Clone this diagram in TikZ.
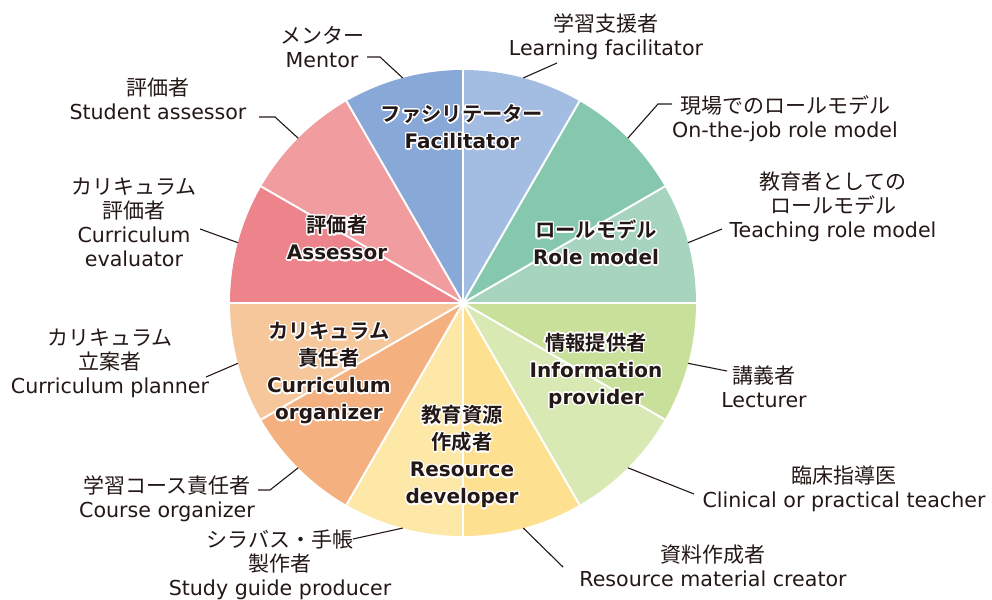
\documentclass[tikz,border=0pt]{standalone}
\usepackage{fontspec}
\setmainfont{DejaVu Sans}
\newfontfamily\jp{Noto Sans CJK JP}[BoldFont={Noto Sans CJK JP Bold}]
\usepackage{contour}
\contourlength{1.4pt}
\contournumber{16}
\definecolor{ink}{HTML}{231815}
\definecolor{cMentor}{HTML}{88A9D7}
\definecolor{cLF}{HTML}{A3BCE2}
\definecolor{cOTJ}{HTML}{86C8AE}
\definecolor{cTeach}{HTML}{A6D4BF}
\definecolor{cLect}{HTML}{C9E09A}
\definecolor{cClin}{HTML}{D9E9B3}
\definecolor{cRMC}{HTML}{FEE190}
\definecolor{cSGP}{HTML}{FEE8A8}
\definecolor{cCourse}{HTML}{F4B17F}
\definecolor{cPlan}{HTML}{F7C79C}
\definecolor{cEval}{HTML}{ED838B}
\definecolor{cStud}{HTML}{F19C9E}
\newcommand\J[1]{{\jp\fontsize{21}{24}\selectfont #1}}
\newcommand\JB[1]{{\jp\bfseries\fontsize{20.3}{27}\selectfont #1}}
\newcommand\halo[1]{\contour{white}{#1}}
\tikzset{
  outer/.style={text=ink, align=center, inner sep=0pt, font=\fontsize{20.6}{24}\selectfont},
  inner/.style={text=ink, align=center, inner sep=0pt, font=\fontsize{20}{27}\selectfont\bfseries},
  leader/.style={draw=ink, line width=1.1pt},
  sep/.style={draw=white, line width=2pt},
}
\begin{document}
\begin{tikzpicture}[x=1pt,y=-1pt]
\useasboundingbox (0,0) rectangle (992,599);
\begin{scope}[shift={(463,303)},y=1pt]
  \coordinate (O) at (0,0);
  \foreach \a/\c in {90/cLF,60/cOTJ,30/cTeach,0/cLect,-30/cClin,-60/cRMC,-90/cSGP,-120/cCourse,-150/cPlan,-180/cEval,-210/cStud,-240/cMentor}
    \fill[\c] (O) -- (\a:233) arc[start angle=\a, delta angle=-30, radius=233] -- cycle;
  \foreach \a in {0,30,...,330}
    \draw[sep] (O) -- (\a:233);
  \coordinate (pMentor) at (105:233);
  \coordinate (pLF) at (75:233);
  \coordinate (pOTJ) at (45:233);
  \coordinate (pTeach) at (15:233);
  \coordinate (pLect) at (-15:233);
  \coordinate (pClin) at (-45:233);
  \coordinate (pRMC) at (-75:233);
  \coordinate (pSGP) at (-105:233);
  \coordinate (pCourse) at (-135:233);
  \coordinate (pPlan) at (-165:233);
  \coordinate (pEval) at (165:233);
  \coordinate (pStud) at (135:233);
\end{scope}

% inner labels
\node[inner] (iFac) at (462,127.5) {\halo{\JB{ファシリテーター}}\\\halo{Facilitator}};
\node[inner] (iAss) at (337,238.5) {\halo{\JB{評価者}}\\\halo{Assessor}};
\node[inner] (iRole) at (596,243.5) {\halo{\JB{ロールモデル}}\\\halo{Role model}};
\node[inner] (iInfo) at (596,371.5) {\halo{\JB{情報提供者}}\\\halo{Information}\\\halo{provider}};
\node[inner] (iRes) at (462,457.5) {\halo{\JB{教育資源}}\\\halo{\JB{作成者}}\\\halo{Resource}\\\halo{developer}};
\node[inner] (iCur) at (329,374) {\halo{\JB{カリキュラム}}\\\halo{\JB{責任者}}\\\halo{Curriculum}\\\halo{organizer}};

% outer labels
\node[outer] (tMentor) at (322,47.5) {\J{メンター}\\Mentor};
\node[outer] (tLF) at (606,37) {\J{学習支援者}\\Learning facilitator};
\node[outer] (tOTJ) at (785,118.5) {\J{現場でのロールモデル}\\On-the-job role model};
\node[outer] (tTeach) at (833,207) {\J{教育者としての}\\\J{ロールモデル}\\Teaching role model};
\node[outer] (tLect) at (764,386.5) {\J{講義者}\\Lecturer};
\node[outer] (tClin) at (844,488.5) {\J{臨床指導医}\\Clinical or practical teacher};
\node[outer] (tRMC) at (713,566) {\J{資料作成者}\\Resource material creator};
\node[outer] (tSGP) at (280,565) {\J{シラバス・手帳}\\\J{製作者}\\Study guide producer};
\node[outer] (tCourse) at (167,499) {\J{学習コース責任者}\\Course organizer};
\node[outer] (tPlan) at (110,363) {\J{カリキュラム}\\\J{立案者}\\Curriculum planner};
\node[outer] (tEval) at (134,222.5) {\J{カリキュラム}\\\J{評価者}\\Curriculum\\evaluator};
\node[outer] (tStud) at (158,99) {\J{評価者}\\Student assessor};

% leader ends
\coordinate (eMentor) at (367,57);
\coordinate (eLF) at (557,63);
\coordinate (eOTJ) at (672,104);
\coordinate (eTeach) at (722,229);
\coordinate (eLect) at (727,371);
\coordinate (eClin) at (694,494);
\coordinate (eRMC) at (563,567);
\coordinate (eSGP) at (353,539);
\coordinate (eCourse) at (258,490);
\coordinate (ePlan) at (206,377);
\coordinate (eEval) at (200,229);
\coordinate (eStud) at (259,117);

\draw[leader] (pMentor) -- (380,57) -- (eMentor);
\draw[leader] (pLF) -- (eLF);
\draw[leader] (pOTJ) -- (658,104) -- (eOTJ);
\draw[leader] (pTeach) -- (eTeach);
\draw[leader] (pLect) -- (eLect);
\draw[leader] (pClin) -- (eClin);
\draw[leader] (pRMC) -- (eRMC);
\draw[leader] (pSGP) -- (eSGP);
\draw[leader] (pCourse) -- (270,490) -- (eCourse);
\draw[leader] (pPlan) -- (ePlan);
\draw[leader] (pEval) -- (eEval);
\draw[leader] (pStud) -- (275,117) -- (eStud);
\end{tikzpicture}
\end{document}
